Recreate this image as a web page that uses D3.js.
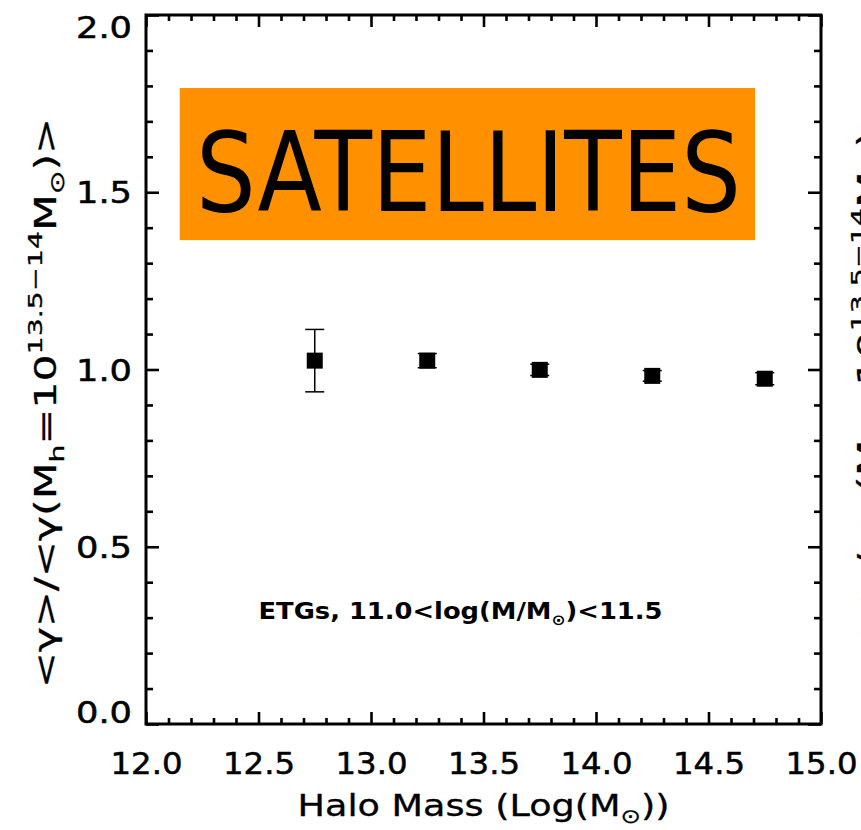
<!DOCTYPE html>
<html>
<head>
<meta charset="utf-8">
<script src="https://cdn.jsdelivr.net/npm/d3@7"></script>
<style>
  html, body { margin: 0; padding: 0; background: #fff; }
  svg { display: block; }
  text { font-family: "DejaVu Sans", sans-serif; fill: #000; }
</style>
</head>
<body>
<script>
// ---- data ----
const haloMass = [12.75, 13.25, 13.75, 14.25, 14.75];
const gammaRatio = [1.025, 1.025, 0.999, 0.982, 0.974];
const gammaErr = [0.088, 0.02, 0.016, 0.015, 0.017];
const xMajorTicks = [12.0, 12.5, 13.0, 13.5, 14.0, 14.5, 15.0];
const yMajorTicks = [0.0, 0.5, 1.0, 1.5, 2.0];
const xDomain = [12.0, 15.0];
const yDomain = [0.0, 2.0];
const panelTitle = "SATELLITES";
const sampleLabel = ["ETGs,  11.0<log(M/M", "⊙", ")<11.5"];

const W = 861, H = 830;
const margin = { left: 146, top: 15, right: 40, bottom: 106 };
const iw = W - margin.left - margin.right;
const ih = H - margin.top - margin.bottom;

const svg = d3.select("body").append("svg").attr("width", W).attr("height", H);
const g = svg.append("g").attr("transform", `translate(${margin.left},${margin.top})`);

const x = d3.scaleLinear().domain(xDomain).range([0, iw]);
const y = d3.scaleLinear().domain(yDomain).range([ih, 0]);

const xMinor = d3.range(121, 151).map(v => v / 10).filter(v => !xMajorTicks.some(m => Math.abs(m - v) < 1e-6));
const yMinor = d3.range(1, 20).map(v => v / 10).filter(v => !yMajorTicks.some(m => Math.abs(m - v) < 1e-6));

function styleAxis(sel) {
  sel.select(".domain").remove();
  sel.selectAll(".tick line").attr("stroke", "#000").attr("stroke-width", 2.6);
}
function styleLabels(sel) {
  sel.selectAll("text")
    .attr("font-size", 30).attr("fill", "#000")
    .attr("stroke", "#000").attr("stroke-width", 0.5)
    .attr("textLength", function () { return this.textContent.length > 3 ? 72 : 56; })
    .attr("lengthAdjust", "spacingAndGlyphs");
}

// bottom major with labels
g.append("g").attr("transform", `translate(0,${ih})`)
  .call(d3.axisBottom(x).tickValues(xMajorTicks).tickSizeInner(-12).tickSizeOuter(0).tickPadding(29).tickFormat(d3.format(".1f")))
  .call(styleAxis).call(styleLabels);
g.append("g").attr("transform", `translate(0,${ih})`)
  .call(d3.axisBottom(x).tickValues(xMinor).tickSizeInner(-6).tickSizeOuter(0).tickFormat(""))
  .call(styleAxis);
// top mirror
g.append("g")
  .call(d3.axisTop(x).tickValues(xMajorTicks).tickSizeInner(-12).tickSizeOuter(0).tickFormat(""))
  .call(styleAxis);
g.append("g")
  .call(d3.axisTop(x).tickValues(xMinor).tickSizeInner(-6).tickSizeOuter(0).tickFormat(""))
  .call(styleAxis);
// left
const yAx = g.append("g")
  .call(d3.axisLeft(y).tickValues(yMajorTicks).tickSizeInner(-13).tickSizeOuter(0).tickPadding(14).tickFormat(d3.format(".1f")))
  .call(styleAxis).call(styleLabels);
// end labels are nudged inside the frame, as in the original
yAx.selectAll(".tick text").attr("y", d => d === 2.0 ? 13 : d === 0.0 ? -11 : 1);
g.append("g")
  .call(d3.axisLeft(y).tickValues(yMinor).tickSizeInner(-7).tickSizeOuter(0).tickFormat(""))
  .call(styleAxis);
// right mirror
g.append("g").attr("transform", `translate(${iw},0)`)
  .call(d3.axisRight(y).tickValues(yMajorTicks).tickSizeInner(-13).tickSizeOuter(0).tickFormat(""))
  .call(styleAxis);
g.append("g").attr("transform", `translate(${iw},0)`)
  .call(d3.axisRight(y).tickValues(yMinor).tickSizeInner(-7).tickSizeOuter(0).tickFormat(""))
  .call(styleAxis);

// frame
g.append("rect").attr("x", 0).attr("y", 0).attr("width", iw).attr("height", ih)
  .attr("fill", "none").attr("stroke", "#000").attr("stroke-width", 3);

// orange title box
const boxX0 = 12.15, boxX1 = 14.707, boxY0 = 1.365, boxY1 = 1.794;
g.append("rect")
  .attr("x", x(boxX0)).attr("y", y(boxY1))
  .attr("width", x(boxX1) - x(boxX0)).attr("height", y(boxY0) - y(boxY1))
  .attr("fill", "#ff9100");
g.append("text")
  .attr("x", (x(boxX0) + x(boxX1)) / 2 + 1).attr("y", y(1.575) + 45)
  .attr("text-anchor", "middle")
  .attr("font-family", "'Liberation Sans', sans-serif")
  .attr("font-size", 110)
  .attr("textLength", 545).attr("lengthAdjust", "spacingAndGlyphs")
  .text(panelTitle);

// data: error bars + squares
const pts = haloMass.map((m, i) => ({ m, v: gammaRatio[i], e: gammaErr[i] }));
const eb = g.append("g").attr("stroke", "#000").attr("stroke-width", 1.5);
eb.selectAll("line.v").data(pts).join("line")
  .attr("x1", d => x(d.m)).attr("x2", d => x(d.m))
  .attr("y1", d => y(d.v - d.e)).attr("y2", d => y(d.v + d.e));
eb.selectAll("line.t").data(pts).join("line")
  .attr("x1", d => x(d.m) - 9.5).attr("x2", d => x(d.m) + 9.5)
  .attr("y1", d => y(d.v + d.e)).attr("y2", d => y(d.v + d.e));
eb.selectAll("line.b").data(pts).join("line")
  .attr("x1", d => x(d.m) - 9.5).attr("x2", d => x(d.m) + 9.5)
  .attr("y1", d => y(d.v - d.e)).attr("y2", d => y(d.v - d.e));
g.selectAll("rect.pt").data(pts).join("rect").attr("class", "pt")
  .attr("x", d => x(d.m) - 8).attr("y", d => y(d.v) - 8)
  .attr("width", 16).attr("height", 16).attr("fill", "#000");

// sample annotation
const ann = g.append("text")
  .attr("x", x(13.5) - 23).attr("y", y(0.3) + 1)
  .attr("text-anchor", "middle").attr("font-size", 23).attr("font-weight", "bold")
  .attr("textLength", 404).attr("lengthAdjust", "spacingAndGlyphs");
ann.append("tspan").text(sampleLabel[0]);
ann.append("tspan").attr("font-size", 15).attr("dy", 6).text(sampleLabel[1]);
ann.append("tspan").attr("dy", -6).text(sampleLabel[2]);

// x axis title
const xt = svg.append("text")
  .attr("x", margin.left + iw / 2).attr("y", 816)
  .attr("text-anchor", "middle").attr("font-size", 30)
  .attr("stroke", "#000").attr("stroke-width", 0.3)
  .attr("textLength", 372).attr("lengthAdjust", "spacingAndGlyphs");
xt.append("tspan").text("Halo Mass (Log(M");
xt.append("tspan").attr("font-size", 20).attr("dy", 7).text("⊙");
xt.append("tspan").attr("dy", -7).text("))");

// y axis title (and the neighbouring panel's, cut by the edge)
function yTitle(cx, cy) {
  const t = svg.append("text")
    .attr("transform", `translate(${cx},${cy}) rotate(-90)`)
    .attr("text-anchor", "middle").attr("font-size", 30)
    .attr("stroke", "#000").attr("stroke-width", 0.3)
    .attr("textLength", 570).attr("lengthAdjust", "spacingAndGlyphs");
  t.append("tspan").text("<γ>/<γ(M");
  t.append("tspan").attr("font-size", 20).attr("dy", 8).text("h");
  t.append("tspan").attr("dy", -8).text("=10");
  t.append("tspan").attr("font-size", 20).attr("dy", -14).text("13.5−14");
  t.append("tspan").attr("dy", 14).text("M");
  t.append("tspan").attr("font-size", 20).attr("dy", 8).text("⊙");
  t.append("tspan").attr("dy", -8).text(")>");
}
yTitle(56, 403);
yTitle(879, 380);
</script>
</body>
</html>
